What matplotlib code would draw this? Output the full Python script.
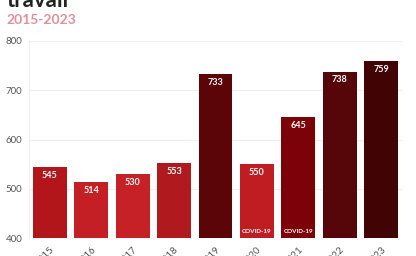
import matplotlib
matplotlib.use("Agg")
import matplotlib.pyplot as plt

# Data
years = ["2015", "2016", "2017", "2018", "2019", "2020", "2021", "2022", "2023"]
values = [545, 514, 530, 553, 733, 550, 645, 738, 759]
notes = ["", "", "", "", "", "COVID-19", "COVID-19", "", ""]
colors = ["#b2161b", "#c41f24", "#c62127", "#b01a1f", "#5c0508",
          "#bf1d22", "#7d0208", "#560508", "#420305"]

plt.rcParams['font.family'] = ['Lato', 'DejaVu Sans']

fig = plt.figure(figsize=(4.16, 2.56), dpi=100)
ax = fig.add_axes([0.07, 0.07, 0.896, 0.77])

x = range(len(years))
ax.bar(x, values, width=0.82, color=colors, zorder=2)

for i, v in enumerate(values):
    ax.text(i, v - 8, str(v), ha="center", va="top", color="white",
            fontsize=6.5, fontweight="bold", zorder=3)
    if notes[i]:
        ax.text(i, 408, notes[i], ha="center", va="bottom", color="white",
                fontsize=4.5, fontweight="bold", zorder=3)

ax.set_ylim(400, 800)
ax.set_xlim(-0.5, len(years) - 0.5)
ax.set_yticks([400, 500, 600, 700, 800])
ax.set_xticks(list(x))
ax.set_xticklabels(years, rotation=45, ha="right", rotation_mode="anchor")
ax.tick_params(axis="both", length=0, labelsize=7, colors="#555555", pad=5)
ax.grid(axis="y", color="#eeeeee", linewidth=0.8, zorder=0)

for s in ["top", "right", "bottom"]:
    ax.spines[s].set_visible(False)
ax.spines["left"].set_color("#eeeeee")

fig.text(0.015, 0.972, "travail", fontsize=16, fontweight="bold",
         color="#222222", va="baseline")
fig.text(0.015, 0.905, "2015-2023", fontsize=10, fontweight="bold",
         color="#e0909a", va="baseline")

fig.savefig("out.png", dpi=100)
